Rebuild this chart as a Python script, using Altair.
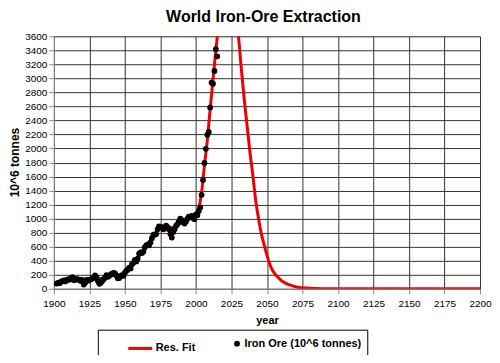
import altair as alt
import pandas as pd

# Iron-ore extraction data (10^6 tonnes)
ore_years = list(range(1902, 2016))
ore_values = [
    75, 85, 80, 100, 110, 120, 105, 125, 135, 130,
    150, 165, 125, 125, 140, 135, 125, 110, 125, 60,
    85, 125, 115, 125, 135, 145, 160, 190, 165, 110,
    70, 85, 110, 135, 160, 195, 170, 185, 205, 215,
    225, 220, 190, 150, 155, 180, 195, 185, 230, 260,
    270, 300, 290, 350, 370, 410, 390, 430, 500, 520,
    510, 530, 590, 620, 630, 620, 660, 720, 770, 770,
    780, 850, 890, 880, 880, 850, 860, 900, 880, 850,
    780, 730, 810, 850, 900, 920, 960, 1000, 980, 950,
    930, 960, 1000, 1030, 1020, 1040, 1010, 990, 1060, 1050,
    1110, 1160, 1340, 1550, 1795, 1995, 2195, 2235, 2585, 2940,
    2925, 3105, 3415, 3315,
]

# Resource fit curve
fit_years = [
    1900, 1905, 1910, 1915, 1920, 1925, 1930, 1935, 1940, 1945,
    1950, 1955, 1960, 1965, 1970, 1975, 1980, 1985, 1990, 1995, 2000,
    2002, 2004, 2006, 2008, 2010, 2012, 2014, 2016, 2018, 2020,
    2022, 2024, 2026, 2028, 2030, 2032, 2034, 2036, 2038, 2040,
    2042, 2044, 2046, 2048, 2050, 2052, 2054, 2056, 2058, 2060,
    2063, 2066, 2070, 2075, 2080, 2090, 2100, 2150, 2200,
]
fit_values = [
    50, 95, 120, 130, 120, 125, 140, 150, 185, 190,
    230, 340, 470, 610, 750, 860, 880, 870, 960, 1010, 1080,
    1150, 1380, 1760, 2120, 2560, 2980, 3400, 3750, 4020, 4220,
    4300, 4250, 4080, 3850, 3580, 3130, 2700, 2330, 1950, 1630,
    1270, 1010, 790, 630, 480, 350, 260, 200, 160, 120,
    80, 55, 30, 15, 7, 2, 1, 0, 0,
]

chart_title = "World Iron-Ore Extraction"
series_names = ["Res. Fit", "Iron Ore (10^6 tonnes)"]
series_colors = ["#ee0000", "#000000"]
series_shapes = ["stroke", "circle"]
series_sizes = [576, 8]

x_ticks = list(range(1900, 2201, 25))
y_ticks = list(range(0, 3601, 200))

FONT = "Liberation Sans"
GRID = "#333333"

ore_df = pd.DataFrame({"year": ore_years, "value": ore_values, "series": series_names[1]})
fit_df = pd.DataFrame({"year": fit_years, "value": fit_values, "series": series_names[0]})

legend = alt.Legend(
    title=None,
    orient="none",
    legendX=44,
    legendY=294,
    direction="horizontal",
    strokeColor="black",
    padding=5,
    symbolOffset=24,
    columnPadding=12,
    symbolStrokeWidth=3,
    labelFont=FONT,
    labelFontSize=11,
    labelFontWeight="bold",
    labelColor="black",
    labelOffset=2,
)

color = alt.Color(
    "series:N",
    scale=alt.Scale(domain=series_names, range=series_colors),
    legend=legend,
)
shape = alt.Shape(
    "series:N",
    scale=alt.Scale(domain=series_names, range=series_shapes),
    legend=legend,
)
size = alt.Size(
    "series:N",
    scale=alt.Scale(domain=series_names, range=series_sizes),
    legend=legend,
)

x_enc = alt.X(
    "year:Q",
    scale=alt.Scale(domain=[1900, 2200], nice=False, zero=False),
    axis=alt.Axis(values=x_ticks, format="d", title="year", labelFlush=False,
                  gridColor=GRID, titlePadding=6, labelPadding=5),
)
y_enc = alt.Y(
    "value:Q",
    scale=alt.Scale(domain=[0, 3600], nice=False),
    axis=alt.Axis(values=y_ticks, format="d", title="10^6 tonnes", labelFlush=False,
                  gridColor=GRID, titleFontSize=12, titleX=-35, titleY=126,
                  titleAngle=270, titleAlign="center", titleBaseline="alphabetic"),
)

fit_line = alt.Chart(fit_df).mark_line(
    strokeWidth=3, interpolate="monotone", clip=True
).encode(x=x_enc, y=y_enc, color=color)

ore_points = alt.Chart(ore_df).mark_point(
    filled=False, strokeWidth=3, opacity=1, clip=True
).encode(x=x_enc, y=y_enc, color=color, shape=shape, size=size)

title_text = alt.Chart(pd.DataFrame({"t": [chart_title]})).mark_text(
    font=FONT, fontSize=16, fontWeight="bold", color="black",
    align="center", baseline="alphabetic",
).encode(text="t:N", x=alt.value(210), y=alt.value(-14))

chart = alt.layer(fit_line, ore_points, title_text).properties(
    width=427,
    height=253,
    padding={"left": 46, "top": 28, "right": 12, "bottom": 66},
    autosize=alt.AutoSizeParams(type="none"),
).configure_axis(
    labelFont=FONT,
    labelFontSize=10,
    labelFontWeight="bold",
    labelColor="black",
    titleFont=FONT,
    titleFontSize=11,
    titleFontWeight="bold",
    titleColor="black",
    gridColor=GRID,
    gridWidth=1,
    gridOpacity=1,
    domainColor="black",
    domainWidth=1,
    tickColor="black",
    tickSize=4,
    labelPadding=4,
).configure_view(
    stroke=GRID,
).configure(background="white")

chart.save("out.html", embed_options={"renderer": "svg", "actions": False})
